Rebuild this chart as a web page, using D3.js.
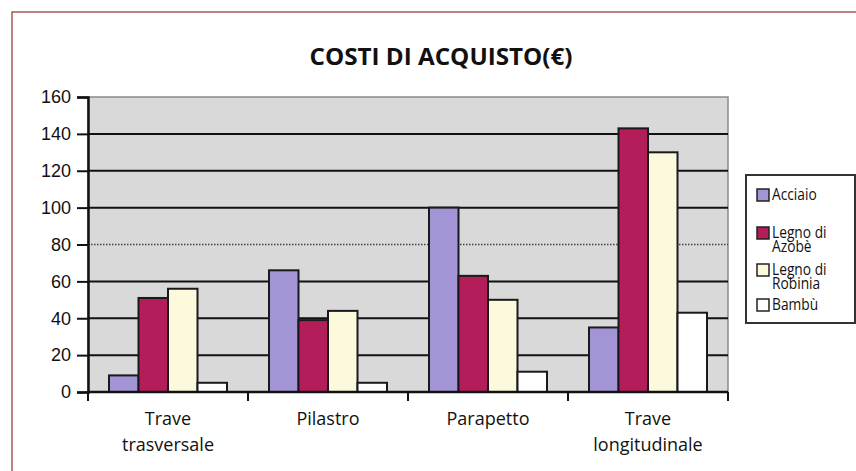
<!DOCTYPE html>
<html><head><meta charset="utf-8">
<script src="https://cdn.jsdelivr.net/npm/d3@7"></script>
<style>body{margin:0;background:#fff}svg{display:block}</style>
</head><body>
<svg id="c" width="856" height="471"></svg>
<script>
const categories = ["Trave trasversale", "Pilastro", "Parapetto", "Trave longitudinale"];
const categoryLines = [["Trave", "trasversale"], ["Pilastro"], ["Parapetto"], ["Trave", "longitudinale"]];
const seriesNames = ["Acciaio", "Legno di Azobè", "Legno di Robinia", "Bambù"];
const legendLines = [["Acciaio"], ["Legno di", "Azobè"], ["Legno di", "Robinia"], ["Bambù"]];
const acciaio = [9, 66, 100, 35];
const legnoAzobe = [51, 39, 63, 143];
const legnoRobinia = [56, 44, 50, 130];
const bambu = [5, 5, 11, 43];
const yTicks = [0, 20, 40, 60, 80, 100, 120, 140, 160];
const title = "COSTI DI ACQUISTO(€)";

const seriesValues = [acciaio, legnoAzobe, legnoRobinia, bambu];
const colors = ["#a394d6", "#b21d5a", "#fcf9dc", "#ffffff"];

const svg = d3.select("#c");
// outer frame
svg.append("rect").attr("x", 12).attr("y", 12).attr("width", 900).attr("height", 500)
  .attr("fill", "none").attr("stroke", "#a85a52").attr("stroke-width", 1.5);

const pL = 88, pR = 728, pT = 97, pB = 392;
const y = d3.scaleLinear().domain([0, 160]).range([pB, pT]);
const x0 = d3.scaleBand().domain(categories).range([pL, pR]).padding(0);
const x1 = d3.scaleBand().domain(seriesNames).range([21, x0.bandwidth() - 21]).padding(0);

// plot background
svg.append("rect").attr("x", pL).attr("y", pT).attr("width", pR - pL).attr("height", pB - pT)
  .attr("fill", "#d9d9d9").attr("stroke", "#8a8a8a").attr("stroke-width", 1.5);

// gridlines
svg.append("g").selectAll("line").data(yTicks.filter(t => t > 0 && t < 160)).join("line")
  .attr("x1", pL).attr("x2", pR).attr("y1", d => y(d)).attr("y2", d => y(d))
  .attr("stroke", d => d === 80 ? "#444" : "#111")
  .attr("stroke-width", d => d === 80 ? 1.5 : 2)
  .attr("stroke-dasharray", d => d === 80 ? "1.5,1.5" : null);

// bars
const rows = [];
categories.forEach((c, i) => seriesNames.forEach((s, j) => rows.push({c, s, j, v: seriesValues[j][i]})));
svg.append("g").selectAll("rect").data(rows).join("rect")
  .attr("x", d => x0(d.c) + x1(d.s))
  .attr("y", d => y(d.v))
  .attr("width", x1.bandwidth())
  .attr("height", d => y(0) - y(d.v))
  .attr("fill", d => colors[d.j])
  .attr("stroke", "#1a1a1a").attr("stroke-width", 2);

// y axis
const yAxis = svg.append("g").attr("transform", `translate(${pL},0)`)
  .call(d3.axisLeft(y).tickValues(yTicks).tickSize(11).tickPadding(6));
yAxis.select(".domain").attr("stroke", "#111").attr("stroke-width", 2.5);
yAxis.selectAll(".tick line").attr("stroke", "#111").attr("stroke-width", 2);
yAxis.selectAll(".tick text").attr("font-family", "Liberation Sans, Arial, sans-serif")
  .attr("font-size", 18).attr("fill", "#111");

// x axis
const xAxisG = svg.append("g").attr("transform", `translate(0,${pB})`);
xAxisG.append("line").attr("x1", pL).attr("x2", pR).attr("y1", 0).attr("y2", 0)
  .attr("stroke", "#111").attr("stroke-width", 2.5);
const boundaries = categories.map(c => x0(c)).concat([pR]);
xAxisG.selectAll("line.t").data(boundaries).join("line").attr("class", "t")
  .attr("x1", d => d).attr("x2", d => d).attr("y1", 0).attr("y2", 9)
  .attr("stroke", "#111").attr("stroke-width", 2);
const xl = svg.append("g").selectAll("text").data(categories).join("text")
  .attr("x", d => x0(d) + x0.bandwidth() / 2).attr("y", 425)
  .attr("text-anchor", "middle").attr("font-family", "Open Sans, sans-serif")
  .attr("font-size", 18).attr("fill", "#111");
xl.each(function(d, i) {
  d3.select(this).selectAll("tspan").data(categoryLines[i]).join("tspan")
    .attr("x", x0(d) + x0.bandwidth() / 2).attr("dy", (t, k) => k === 0 ? 0 : 26).text(t => t);
});

// title
svg.append("text").attr("x", 441).attr("y", 65).attr("text-anchor", "middle")
  .attr("font-family", "Open Sans, sans-serif").attr("font-weight", "bold")
  .attr("font-size", 23).attr("fill", "#111")
  .attr("textLength", 263).attr("lengthAdjust", "spacingAndGlyphs").text(title);

// legend
const lg = svg.append("g");
lg.append("rect").attr("x", 746).attr("y", 175).attr("width", 109).attr("height", 148)
  .attr("fill", "#fff").attr("stroke", "#333").attr("stroke-width", 2);
const legendBase = [200, 238, 275, 310];
seriesNames.forEach((s, j) => {
  const by = legendBase[j];
  lg.append("rect").attr("x", 757).attr("y", by - 11).attr("width", 12).attr("height", 12)
    .attr("fill", colors[j]).attr("stroke", "#222").attr("stroke-width", 1.5);
  const t = lg.append("g").attr("transform", `translate(772,${by}) scale(0.86,1)`)
    .append("text").attr("x", 0).attr("y", 0)
    .attr("font-family", "Open Sans, sans-serif").attr("font-size", 16).attr("fill", "#111");
  t.selectAll("tspan").data(legendLines[j]).join("tspan")
    .attr("x", 0).attr("dy", (d, k) => k === 0 ? 0 : 14).text(d => d);
});
</script>
</body></html>
